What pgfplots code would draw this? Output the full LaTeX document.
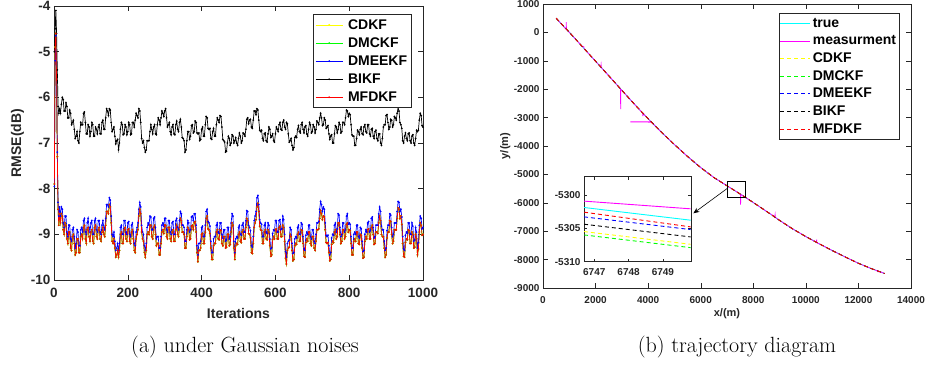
\documentclass[border=0pt]{standalone}
\usepackage{fontspec}
\usepackage{pgfplots}
\pgfplotsset{compat=1.18}
\usepackage{pgfplotstable}
\usetikzlibrary{arrows.meta}
\newfontfamily\arial{Liberation Sans}
\definecolor{axgray}{rgb}{0.15,0.15,0.15}
\definecolor{cY}{rgb}{1,1,0}
\definecolor{cG}{rgb}{0,1,0}
\definecolor{cB}{rgb}{0,0,1}
\definecolor{cK}{rgb}{0,0,0}
\definecolor{cR}{rgb}{1,0,0}
\definecolor{cC}{rgb}{0,1,1}
\definecolor{cM}{rgb}{1,0,1}

\pgfplotstableread{
x bk bl rd
1 -5.0 -7.95 -7.9
3 -4.5 -5.2 -4.9
5 -4.1 -4.65 -4.6
7 -4.6 -5.6 -5.6
9 -5.4 -7.2 -7.3
11 -6.2 -8.3 -8.45
13 -6.35 -8.6 -8.8
15 -6.25 -8.4 -8.55
17.5 -6.35 -8.6 -8.75
20 -6.15 -8.4 -8.55
22.5 -6.0 -8.45 -8.6
25 -6.05 -8.75 -8.9
27.5 -6.3 -8.85 -9.0
30 -6.3 -8.6 -8.75
32.5 -6.12 -8.6 -8.8
35 -6.2 -8.95 -9.1
37.5 -6.45 -9.05 -9.2
40 -6.45 -8.8 -8.95
42.5 -6.28 -8.8 -8.95
45 -6.35 -9.1 -9.3
47.5 -6.6 -9.15 -9.35
50 -6.55 -8.9 -9.05
52.5 -6.5 -8.85 -9.0
55 -6.7 -9.05 -9.2
57.5 -6.9 -9.3 -9.45
60 -6.85 -9.2 -9.4
62.5 -6.75 -8.9 -9.1
65 -6.95 -8.95 -9.1
67.5 -7.0 -9.25 -9.4
70 -6.75 -9.25 -9.4
72.5 -6.55 -8.9 -9.05
75 -6.6 -8.85 -9.0
77.5 -6.6 -8.95 -9.1
80 -6.35 -8.7 -8.85
82.5 -6.32 -8.65 -8.8
85 -6.55 -8.95 -9.1
87.5 -6.8 -9.0 -9.2
90 -6.8 -8.75 -8.9
92.5 -6.6 -8.65 -8.85
95 -6.65 -8.85 -9.05
97.5 -6.85 -8.95 -9.15
100 -6.75 -8.75 -8.95
102.5 -6.55 -8.7 -8.9
105 -6.6 -9.0 -9.15
107.5 -6.85 -9.0 -9.2
110 -6.85 -8.7 -8.85
112.5 -6.65 -8.65 -8.8
115 -6.7 -8.9 -9.05
117.5 -6.8 -8.95 -9.1
120 -6.65 -8.7 -8.9
122.5 -6.6 -8.7 -8.85
125 -6.8 -8.95 -9.1
127.5 -6.8 -9.0 -9.15
130 -6.55 -8.8 -8.95
132.5 -6.5 -8.7 -8.85
135 -6.7 -8.85 -9.0
137.5 -6.7 -8.9 -9.05
140 -6.45 -8.65 -8.8
142.5 -6.25 -8.35 -8.5
145 -6.3 -8.35 -8.5
147.5 -6.4 -8.4 -8.55
150 -6.25 -8.2 -8.35
152.5 -6.28 -8.25 -8.4
155 -6.55 -8.6 -8.75
157.5 -6.75 -9.0 -9.15
160 -6.7 -9.05 -9.2
162.5 -6.65 -8.95 -9.1
165 -6.85 -9.15 -9.3
167.5 -7.02 -9.35 -9.5
170 -6.95 -9.3 -9.45
172.5 -6.92 -9.2 -9.35
175 -7.15 -9.35 -9.5
177.5 -7.0 -9.2 -9.35
180 -6.7 -8.85 -9.0
182.5 -6.55 -8.8 -8.95
185 -6.6 -9.0 -9.2
187.5 -6.82 -9.0 -9.2
190 -6.8 -8.7 -8.9
192.5 -6.6 -8.7 -8.85
195 -6.65 -8.95 -9.1
197.5 -6.82 -9.0 -9.15
200 -6.75 -8.75 -8.9
202.5 -6.55 -8.72 -8.88
205 -6.6 -9.0 -9.15
207.5 -6.82 -9.05 -9.2
210 -6.8 -8.8 -8.95
212.5 -6.55 -8.75 -8.9
215 -6.55 -8.95 -9.1
217.5 -6.65 -9.2 -9.35
220 -6.5 -9.25 -9.4
222.5 -6.35 -8.95 -9.1
225 -6.4 -8.85 -9.0
227.5 -6.45 -8.75 -8.9
230 -6.25 -8.45 -8.6
232.5 -6.3 -8.3 -8.45
235 -6.55 -8.4 -8.55
237.5 -6.9 -8.8 -8.95
240 -7.0 -8.95 -9.1
242.5 -6.95 -9.0 -9.15
245 -7.1 -9.25 -9.4
247.5 -7.2 -9.35 -9.5
250 -7.15 -9.2 -9.35
252.5 -6.95 -8.85 -9.0
255 -6.95 -8.75 -8.95
257.5 -6.95 -8.8 -9.0
260 -6.75 -8.6 -8.8
262.5 -6.6 -8.62 -8.8
265 -6.7 -8.9 -9.05
267.5 -6.8 -8.9 -9.1
270 -6.65 -8.65 -8.85
272.5 -6.6 -8.62 -8.8
275 -6.8 -8.85 -9.0
277.5 -6.82 -9.1 -9.25
280 -6.6 -9.05 -9.2
282.5 -6.45 -9.05 -9.2
285 -6.5 -9.3 -9.45
287.5 -6.6 -9.3 -9.45
290 -6.45 -9.05 -9.2
292.5 -6.3 -8.8 -8.95
295 -6.35 -8.75 -8.9
297.5 -6.42 -8.82 -8.98
300 -6.3 -8.65 -8.8
302.5 -6.25 -8.65 -8.8
305 -6.45 -8.9 -9.05
307.5 -6.65 -8.95 -9.1
310 -6.6 -8.7 -8.85
312.5 -6.55 -8.7 -8.85
315 -6.75 -8.95 -9.1
317.5 -6.82 -9.0 -9.15
320 -6.65 -8.75 -8.95
322.5 -6.6 -8.72 -8.9
325 -6.8 -9.0 -9.15
327.5 -6.82 -9.0 -9.15
330 -6.6 -8.7 -8.9
332.5 -6.52 -8.65 -8.8
335 -6.7 -8.85 -9.0
337.5 -6.75 -8.9 -9.05
340 -6.55 -8.7 -8.85
342.5 -6.48 -8.5 -8.65
345 -6.65 -8.55 -8.7
347.5 -6.88 -8.8 -8.95
350 -6.9 -8.8 -8.95
352.5 -6.95 -8.85 -9.0
355 -7.2 -9.15 -9.3
357.5 -7.15 -9.15 -9.3
360 -6.95 -8.9 -9.05
362.5 -6.75 -8.7 -8.85
365 -6.75 -8.75 -8.9
367.5 -6.92 -8.95 -9.12
370 -6.85 -8.9 -9.1
372.5 -6.62 -8.62 -8.82
375 -6.6 -8.6 -8.8
377.5 -6.78 -8.7 -8.9
380 -6.75 -8.55 -8.75
382.5 -6.52 -8.55 -8.72
385 -6.55 -8.8 -8.95
387.5 -6.78 -9.25 -9.4
390 -6.8 -9.45 -9.6
392.5 -6.78 -9.2 -9.35
395 -6.95 -9.2 -9.35
397.5 -6.92 -9.15 -9.3
400 -6.7 -8.85 -9.0
402.5 -6.65 -8.82 -8.98
405 -6.85 -9.05 -9.2
407.5 -6.85 -9.05 -9.2
410 -6.6 -8.8 -8.95
412.5 -6.42 -8.5 -8.65
415 -6.45 -8.45 -8.6
417.5 -6.68 -8.72 -8.88
420 -6.7 -8.75 -8.9
422.5 -6.68 -8.82 -8.98
425 -6.9 -9.15 -9.3
427.5 -6.92 -9.4 -9.55
430 -6.75 -9.4 -9.55
432.5 -6.68 -9.1 -9.25
435 -6.85 -9.05 -9.2
437.5 -6.85 -9.05 -9.2
440 -6.6 -8.8 -8.95
442.5 -6.45 -8.75 -8.9
445 -6.5 -8.95 -9.1
447.5 -6.55 -8.98 -9.12
450 -6.4 -8.75 -8.9
452.5 -6.42 -8.75 -8.92
455 -6.65 -9.0 -9.2
457.5 -6.92 -9.08 -9.25
460 -6.95 -8.9 -9.05
462.5 -6.98 -8.9 -9.05
465 -7.2 -9.15 -9.3
467.5 -7.18 -9.12 -9.28
470 -7.0 -8.85 -9.0
472.5 -6.85 -8.85 -9.0
475 -6.9 -9.1 -9.25
477.5 -7.05 -9.05 -9.22
480 -7.0 -8.75 -8.95
482.5 -6.82 -8.55 -8.75
485 -6.85 -8.6 -8.8
487.5 -7.0 -9.15 -9.3
490 -6.95 -9.4 -9.55
492.5 -6.88 -9.1 -9.25
495 -7.0 -9.05 -9.2
497.5 -7.05 -9.08 -9.22
500 -6.9 -8.85 -9.0
502.5 -6.78 -8.8 -8.95
505 -6.85 -9.0 -9.15
507.5 -7.0 -9.02 -9.18
510 -6.95 -8.8 -8.95
512.5 -6.78 -8.75 -8.9
515 -6.8 -8.95 -9.1
517.5 -6.85 -8.95 -9.1
520 -6.7 -8.7 -8.85
522.5 -6.48 -8.48 -8.65
525 -6.45 -8.5 -8.7
527.5 -6.58 -8.8 -8.98
530 -6.5 -8.85 -9.0
532.5 -6.48 -8.92 -9.08
535 -6.65 -9.25 -9.4
537.5 -6.68 -9.28 -9.42
540 -6.5 -9.05 -9.2
542.5 -6.3 -8.7 -8.85
545 -6.3 -8.6 -8.75
547.5 -6.38 -8.5 -8.68
550 -6.25 -8.2 -8.4
552.5 -6.28 -8.15 -8.32
555 -6.5 -8.35 -8.5
557.5 -6.72 -8.68 -8.82
560 -6.75 -8.75 -8.9
562.5 -6.72 -8.78 -8.92
565 -6.9 -9.05 -9.2
567.5 -6.95 -9.05 -9.2
570 -6.8 -8.8 -8.95
572.5 -6.78 -8.75 -8.9
575 -6.95 -8.95 -9.1
577.5 -6.98 -8.98 -9.12
580 -6.8 -8.75 -8.9
582.5 -6.65 -8.8 -8.95
585 -6.7 -9.1 -9.25
587.5 -6.88 -9.32 -9.48
590 -6.85 -9.3 -9.45
592.5 -6.8 -8.98 -9.12
595 -6.95 -8.9 -9.05
597.5 -6.98 -8.92 -9.1
600 -6.8 -8.7 -8.9
602.5 -6.65 -8.7 -8.88
605 -6.7 -8.95 -9.1
607.5 -6.75 -8.95 -9.1
610 -6.6 -8.7 -8.85
612.5 -6.55 -8.68 -8.82
615 -6.7 -8.9 -9.05
617.5 -6.72 -8.88 -9.05
620 -6.55 -8.6 -8.8
622.5 -6.5 -8.68 -8.85
625 -6.65 -9.0 -9.15
627.5 -6.7 -9.38 -9.52
630 -6.55 -9.5 -9.65
632.5 -6.58 -9.2 -9.35
635 -6.8 -9.15 -9.3
637.5 -6.98 -9.12 -9.28
640 -6.95 -8.85 -9.0
642.5 -6.9 -8.9 -9.05
645 -7.05 -9.2 -9.35
647.5 -7.15 -9.42 -9.58
650 -7.1 -9.4 -9.55
652.5 -6.88 -9.1 -9.25
655 -6.85 -9.05 -9.2
657.5 -6.88 -9.08 -9.22
660 -6.7 -8.85 -9.0
662.5 -6.62 -8.8 -8.95
665 -6.75 -9.0 -9.15
667.5 -6.78 -9.0 -9.15
670 -6.6 -8.75 -8.9
672.5 -6.55 -8.78 -8.92
675 -6.7 -9.05 -9.2
677.5 -6.78 -9.32 -9.48
680 -6.65 -9.35 -9.5
682.5 -6.62 -9.02 -9.18
685 -6.8 -8.95 -9.1
687.5 -6.85 -9.0 -9.15
690 -6.7 -8.8 -8.95
692.5 -6.55 -8.8 -8.95
695 -6.6 -9.05 -9.2
697.5 -6.78 -9.1 -9.25
700 -6.75 -8.9 -9.05
702.5 -6.6 -8.9 -9.05
705 -6.65 -9.15 -9.3
707.5 -6.78 -9.2 -9.35
710 -6.7 -9.0 -9.15
712.5 -6.52 -8.75 -8.9
715 -6.55 -8.75 -8.9
717.5 -6.6 -8.72 -8.88
720 -6.45 -8.45 -8.65
722.5 -6.35 -8.28 -8.48
725 -6.45 -8.35 -8.55
727.5 -6.62 -8.5 -8.68
730 -6.6 -8.4 -8.6
732.5 -6.45 -8.45 -8.62
735 -6.5 -8.75 -8.9
737.5 -6.68 -9.02 -9.18
740 -6.65 -9.05 -9.2
742.5 -6.62 -9.02 -9.18
745 -6.8 -9.25 -9.4
747.5 -6.92 -9.45 -9.58
750 -6.85 -9.4 -9.55
752.5 -6.82 -9.08 -9.22
755 -7.0 -9.0 -9.15
757.5 -7.0 -9.02 -9.18
760 -6.8 -8.8 -8.95
762.5 -6.62 -8.75 -8.9
765 -6.65 -8.95 -9.1
767.5 -6.78 -8.88 -9.05
770 -6.7 -8.55 -8.75
772.5 -6.55 -8.58 -8.75
775 -6.6 -8.85 -9.0
777.5 -6.78 -9.05 -9.2
780 -6.75 -9.0 -9.15
782.5 -6.55 -8.75 -8.9
785 -6.55 -8.75 -8.9
787.5 -6.6 -8.95 -9.1
790 -6.45 -8.9 -9.05
792.5 -6.28 -8.6 -8.78
795 -6.3 -8.55 -8.75
797.5 -6.42 -8.78 -8.95
800 -6.35 -8.75 -8.9
802.5 -6.38 -8.78 -8.92
805 -6.6 -9.05 -9.2
807.5 -6.82 -9.3 -9.45
810 -6.85 -9.3 -9.45
812.5 -6.85 -9.0 -9.15
815 -7.05 -8.95 -9.1
817.5 -7.05 -9.0 -9.15
820 -6.9 -8.8 -8.95
822.5 -6.72 -8.8 -8.95
825 -6.75 -9.05 -9.2
827.5 -6.82 -9.08 -9.22
830 -6.7 -8.85 -9.0
832.5 -6.65 -8.88 -9.02
835 -6.8 -9.15 -9.3
837.5 -6.82 -9.38 -9.52
840 -6.65 -9.35 -9.5
842.5 -6.6 -9.0 -9.15
845 -6.75 -8.9 -9.05
847.5 -6.78 -8.95 -9.1
850 -6.6 -8.75 -8.9
852.5 -6.6 -8.72 -8.88
855 -6.8 -8.95 -9.1
857.5 -6.85 -8.92 -9.1
860 -6.7 -8.65 -8.85
862.5 -6.68 -8.62 -8.8
865 -6.85 -8.85 -9.0
867.5 -6.9 -9.08 -9.22
870 -6.75 -9.05 -9.2
872.5 -6.72 -8.8 -8.95
875 -6.9 -8.8 -8.95
877.5 -6.95 -8.8 -8.98
880 -6.8 -8.55 -8.75
882.5 -6.8 -8.4 -8.6
885 -7.0 -8.5 -8.7
887.5 -7.05 -8.82 -9.0
890 -6.9 -8.9 -9.05
892.5 -6.65 -8.9 -9.05
895 -6.6 -9.15 -9.3
897.5 -6.6 -9.35 -9.5
900 -6.4 -9.3 -9.45
902.5 -6.38 -8.92 -9.08
905 -6.55 -8.8 -8.95
907.5 -6.7 -8.8 -8.95
910 -6.65 -8.55 -8.7
912.5 -6.48 -8.58 -8.72
915 -6.5 -8.85 -9.0
917.5 -6.65 -9.05 -9.2
920 -6.6 -9.0 -9.15
922.5 -6.42 -8.75 -8.9
925 -6.45 -8.75 -8.9
927.5 -6.5 -8.75 -8.9
930 -6.35 -8.5 -8.65
932.5 -6.22 -8.28 -8.42
935 -6.3 -8.3 -8.45
937.5 -6.55 -8.5 -8.65
940 -6.6 -8.45 -8.6
942.5 -6.68 -8.62 -8.78
945 -6.95 -9.05 -9.2
947.5 -7.0 -9.32 -9.48
950 -6.85 -9.35 -9.5
952.5 -6.78 -9.02 -9.18
955 -6.9 -8.95 -9.1
957.5 -6.95 -8.98 -9.12
960 -6.8 -8.75 -8.9
962.5 -6.78 -8.75 -8.92
965 -6.95 -9.0 -9.2
967.5 -7.0 -9.0 -9.2
970 -6.85 -8.75 -8.95
972.5 -6.82 -8.82 -9.0
975 -7.0 -9.15 -9.3
977.5 -7.05 -9.12 -9.28
980 -6.9 -8.85 -9.0
982.5 -6.72 -8.95 -9.1
985 -6.75 -9.3 -9.45
987.5 -6.72 -9.18 -9.32
990 -6.5 -8.8 -8.95
992.5 -6.35 -8.6 -8.75
995 -6.4 -8.65 -8.8
997.5 -6.62 -8.88 -9.02
1000 -6.65 -8.85 -9.0
}\rmse

\pgfplotstableread{
x y
500 500
1000 5
1500 -505
2000 -1015
2500 -1525
3000 -2040
3500 -2550
4000 -3040
4500 -3510
5000 -3950
5500 -4370
6000 -4760
6500 -5110
7000 -5400
7500 -5690
8000 -5990
8500 -6300
9000 -6620
9500 -6920
10000 -7190
10500 -7440
11000 -7680
11500 -7910
12000 -8130
12500 -8320
13000 -8490
}\traj

\pgfplotstableread{
x y
500 500
880 110
885 360
890 100
1000 5
1500 -505
1550 -500
1560 -570
2000 -1015
2200 -1220
2210 -1140
2220 -1240
2500 -1525
2950 -1990
2955 -2700
2960 -2000
3000 -2040
3500 -2550
3790 -2840
3800 -2950
3810 -2860
4000 -3040
4110 -3145
3320 -3150
4125 -3160
4500 -3510
5000 -3950
5500 -4370
6000 -4760
6500 -5110
7000 -5400
7510 -5695
7516 -6060
7522 -5700
8000 -5990
8500 -6300
8820 -6490
8830 -6420
8840 -6515
9000 -6620
9500 -6920
10000 -7190
10400 -7390
10410 -7300
10420 -7410
10500 -7440
11000 -7680
11500 -7910
12000 -8130
12500 -8320
12800 -8420
12700 -8420
12820 -8430
13000 -8490
}\meas

% inset values: x offset from 6746, y offset from -5300
\pgfplotstableread{
x mg cy rd bl bk ye gr
0.70 -0.95 -1.9 -2.6 -3.3 -4.4 -5.5 -6.0
3.81 -2.1 -3.8 -4.8 -5.2 -6.3 -7.4 -7.9
}\inset

\pgfplotsset{
  mystyle/.style={
    scale only axis,
    axis line style={axgray},
    every tick/.style={axgray},
    tick align=inside,
    major tick length=5pt,
    xtick pos=both, ytick pos=both,
    minor tick num=0,
    /pgf/number format/assume math mode=true,
    /pgf/number format/1000 sep={},
    scaled ticks=false,
    ticklabel style={text=axgray},
  }
}

\begin{document}
\begin{tikzpicture}
\useasboundingbox (0,0) rectangle (925pt,364pt);

% ---------- left axis ----------
\begin{axis}[mystyle,
  at={(54pt,84pt)}, anchor=south west,
  width=369pt, height=274pt,
  xmin=0, xmax=1000, ymin=-10, ymax=-4,
  xtick={0,200,...,1000}, ytick={-10,-9,...,-4},
  ticklabel style={font=\fontsize{13.5}{14}\selectfont\arial\bfseries},
  xticklabel style={yshift=-5pt},
  xlabel={Iterations}, ylabel={RMSE(dB)},
  label style={font=\fontsize{14}{15}\selectfont\arial\bfseries, text=axgray},
  xlabel style={at={(axis description cs:0.5,-0.1387)}, anchor=base},
  ylabel style={at={(axis description cs:-0.0894,0.5)}, anchor=base},
  every axis plot/.append style={line width=0.7pt, mark=*, mark size=0.5pt, mark options={solid}},
  legend style={at={(rel axis cs:0.702,0.971)}, anchor=north west,
    font=\fontsize{14}{16}\selectfont\arial\bfseries, draw=axgray, line width=0.6pt,
    inner xsep=2pt, inner ysep=3pt, row sep=2.9pt,
    /tikz/every odd column/.append style={column sep=3pt}},
  legend cell align=left,
  legend image code/.code={\draw[mark repeat=2,mark phase=2,#1] plot coordinates {(0pt,0pt) (13.5pt,0pt) (27pt,0pt)};},
]
\addplot[color=cY] table[x=x,y=rd] {\rmse};
\addlegendentry{CDKF}
\addplot[color=cG] table[x=x,y=rd] {\rmse};
\addlegendentry{DMCKF}
\addplot[color=cB] table[x=x,y=bl] {\rmse};
\addlegendentry{DMEEKF}
\addplot[color=cK] table[x=x,y=bk] {\rmse};
\addlegendentry{BIKF}
\addplot[color=cR] table[x=x,y=rd] {\rmse};
\addlegendentry{MFDKF}
\end{axis}

% ---------- right axis ----------
\begin{axis}[mystyle,
  at={(543pt,76pt)}, anchor=south west,
  width=368pt, height=284pt,
  xmin=0, xmax=14000, ymin=-9000, ymax=1000,
  xtick={0,2000,...,14000}, ytick={-9000,-8000,...,1000},
  ticklabel style={font=\fontsize{10}{11}\selectfont\arial\bfseries},
  xticklabel style={yshift=-4.5pt},
  xlabel={x/(m)}, ylabel={y/(m)},
  label style={font=\fontsize{11}{12}\selectfont\arial\bfseries, text=axgray},
  xlabel style={at={(axis description cs:0.5,-0.102)}, anchor=base},
  ylabel style={at={(axis description cs:-0.095,0.5)}, anchor=base},
  legend style={at={(rel axis cs:0.640,0.967)}, anchor=north west,
    font=\fontsize{14}{16}\selectfont\arial\bfseries, draw=axgray, line width=0.6pt,
    inner xsep=1pt, inner ysep=3pt, row sep=2.45pt},
  legend cell align=left,
  legend image code/.code={\draw[#1, line width=1pt] (0pt,0pt) -- (30pt,0pt);},
]
\addplot[color=cC, line width=0.8pt] table {\traj};
\addlegendentry{true}
\addplot[color=cM, line width=0.8pt] table {\meas};
\addlegendentry{measurment}
\addplot[color=cY, line width=0.6pt, dash pattern=on 4pt off 3pt] table {\traj};
\addlegendentry{CDKF}
\addplot[color=cG, line width=0.6pt, dash pattern=on 4pt off 3pt] table {\traj};
\addlegendentry{DMCKF}
\addplot[color=cB, line width=0.6pt, dash pattern=on 4pt off 3pt] table {\traj};
\addlegendentry{DMEEKF}
\addplot[color=cK, line width=0.6pt, dash pattern=on 4pt off 3pt] table {\traj};
\addlegendentry{BIKF}
\addplot[color=cR, line width=0.9pt, dash pattern=on 4pt off 3pt] table {\traj};
\addlegendentry{MFDKF}
\draw[black, line width=0.6pt] (axis cs:7030,-5236) rectangle (axis cs:7684,-5820);
\draw[black, line width=0.6pt, -{Stealth[length=6pt,width=5pt]}] (axis cs:7030,-5480) -- (axis cs:5720,-6370);
\end{axis}

% ---------- inset ----------
\begin{axis}[mystyle,
  at={(584pt,102.3pt)}, anchor=south west,
  width=106.7pt, height=85pt,
  xmin=0.70, xmax=3.81, ymin=-10, ymax=2.7,
  xtick={1,2,3}, xticklabels={6747,6748,6749},
  ytick={-10,-5,0}, yticklabels={-5310,-5305,-5300},
  major tick length=3pt,
  axis background/.style={fill=white},
  ticklabel style={font=\fontsize{10}{11}\selectfont\arial\bfseries},
  xticklabel style={yshift=-3pt},
  every axis plot/.append style={line width=0.9pt},
]
\addplot[color=cM] table[x=x,y=mg] {\inset};
\addplot[color=cC] table[x=x,y=cy] {\inset};
\addplot[color=cR, dash pattern=on 4pt off 3pt] table[x=x,y=rd] {\inset};
\addplot[color=cB, dash pattern=on 4pt off 3pt] table[x=x,y=bl] {\inset};
\addplot[color=cK, dash pattern=on 4pt off 3pt] table[x=x,y=bk] {\inset};
\addplot[color=cY, dash pattern=on 4pt off 3pt] table[x=x,y=ye] {\inset};
\addplot[color=cG, dash pattern=on 4pt off 3pt] table[x=x,y=gr] {\inset};
\end{axis}

\node[font=\fontsize{22}{24}\selectfont, anchor=base] at (245pt,12pt) {(a) under Gaussian noises};
\node[font=\fontsize{22}{24}\selectfont, anchor=base] at (737pt,12pt) {(b) trajectory diagram};
\end{tikzpicture}
\end{document}
